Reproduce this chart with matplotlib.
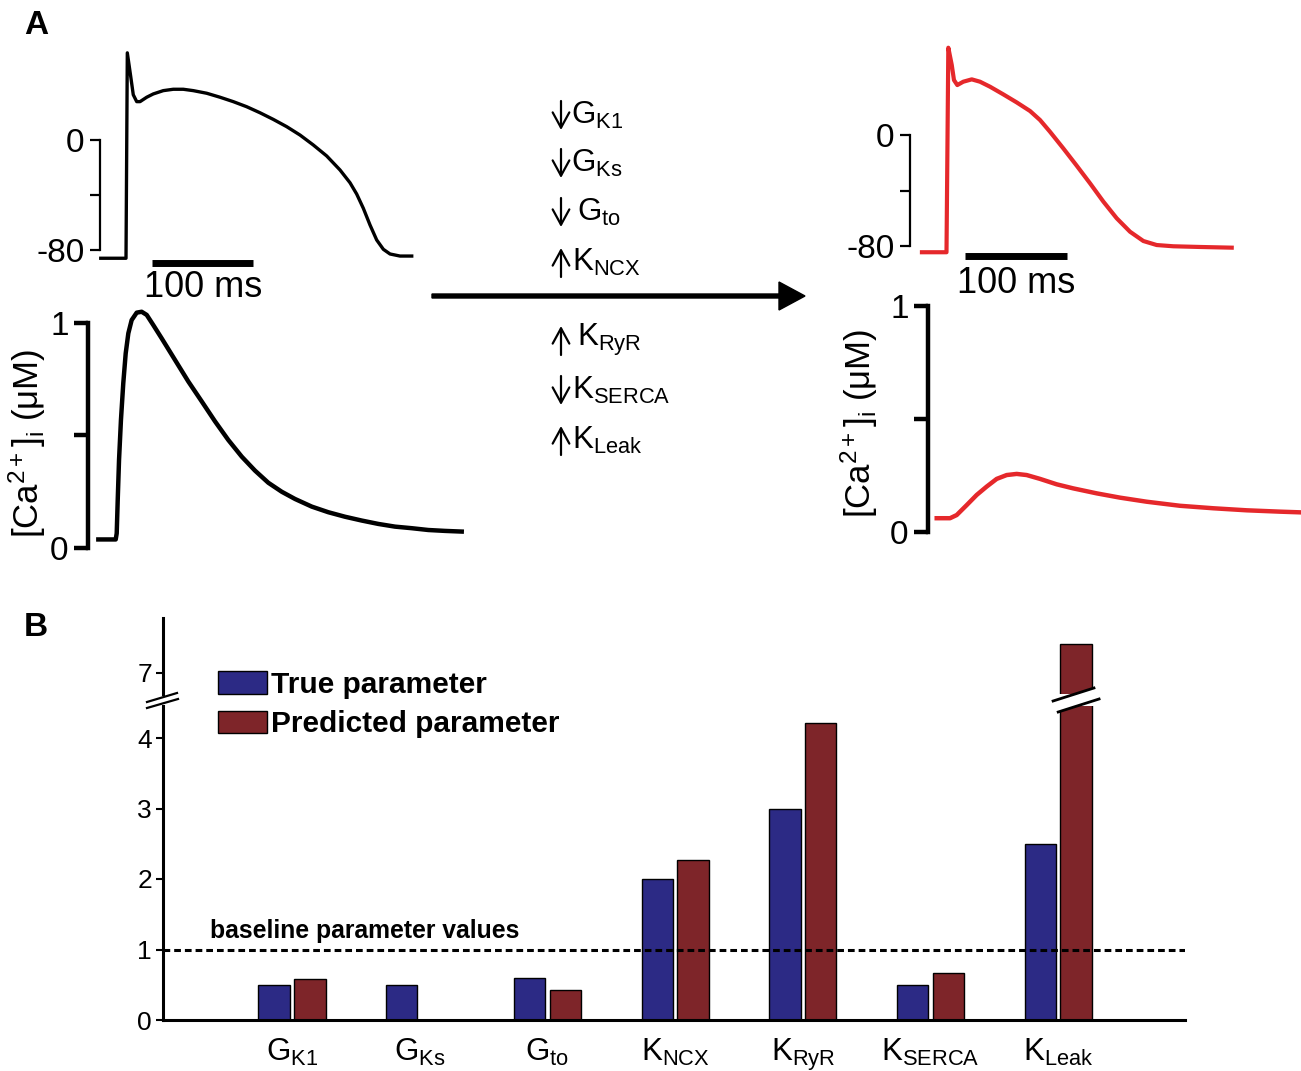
import numpy as np
import matplotlib
matplotlib.use('Agg')
import matplotlib.pyplot as plt
from matplotlib.patches import Patch, Polygon
from matplotlib.transforms import blended_transform_factory

plt.rcParams['font.family'] = ['Liberation Sans', 'DejaVu Sans']
plt.rcParams['mathtext.fontset'] = 'custom'
plt.rcParams['mathtext.rm'] = 'Liberation Sans'
plt.rcParams['mathtext.it'] = 'Liberation Sans:italic'
plt.rcParams['mathtext.bf'] = 'Liberation Sans:bold'

# ---- panel A data (time in ms, voltage in mV, calcium in uM) ----
ap_ctrl_t = [-25, 0, 1.3, 4.7, 7.2, 10.6, 13.9, 20.5, 27, 36.9, 46.8, 56.7, 66.6, 79.9,
             93.1, 106.2, 119.5, 132.7, 145.8, 159.1, 172.3, 185.4, 198.7, 211.9, 221.8,
             228.4, 235, 241.6, 248.2, 254.8, 261.4, 271.3, 282.9]
ap_ctrl_v = [-86, -86, 63.4, 46, 32.9, 27.9, 27.9, 31.1, 33.5, 35.9, 36.9, 36.9, 35.9, 34,
             31.1, 27.9, 24.2, 19.8, 15, 9.7, 3.6, -3.6, -11.6, -21.8, -31.1,
             -39.3, -49.7, -61.8, -72.7, -79.5, -82.9, -84.4, -84.4]

ca_ctrl_t = [-27.4, -10.2, -9.2, -8.2, -6.9, -5.0, -2.7, -0.3, 2.3, 5.6, 10.6, 15.5, 20.5,
             27.0, 35.3, 48.5, 61.7, 74.9, 88.1, 101.3, 114.6, 127.7, 140.9, 154.2, 167.3,
             183.9, 200.3, 216.8, 233.4, 249.8, 266.3, 282.9, 299.3, 315.8, 332.4]
ca_ctrl_c = [0.038, 0.038, 0.065, 0.213, 0.391, 0.569, 0.732, 0.865, 0.954, 1.013, 1.046,
             1.050, 1.036, 0.991, 0.932, 0.836, 0.740, 0.652, 0.563, 0.480, 0.406, 0.344,
             0.290, 0.250, 0.218, 0.184, 0.159, 0.139, 0.122, 0.107, 0.095, 0.088, 0.080,
             0.076, 0.073]

ap_pred_t = [-24.8, -0.5, 1.3, 4.7, 6.9, 10.2, 16.1, 24.5, 32.7, 42.6, 55.7, 69.0, 82.2,
             92.1, 101.9, 115.1, 128.4, 141.6, 154.8, 168.0, 181.2, 194.4, 207.6, 224.1,
             250.5, 281.9]
ap_pred_v = [-84.5, -84.5, 62.9, 50.5, 39.6, 36.0, 38.4, 40.1, 38.4, 34.8, 29.3, 23.5, 17.3,
             10.8, 2.4, -9.6, -22.1, -34.8, -48.0, -60.0, -69.7, -76.4, -79.3, -80.2,
             -80.7, -81.2]

ca_pred_t = [-10.2, 3.0, 9.6, 19.5, 29.4, 39.3, 49.2, 59.1, 69.0, 78.9, 92.1, 108.6, 125.0,
             148.2, 171.3, 197.7, 230.7, 263.7, 296.7, 329.7, 349.5]
ca_pred_c = [0.061, 0.061, 0.075, 0.119, 0.164, 0.201, 0.235, 0.252, 0.257, 0.252, 0.235,
             0.211, 0.193, 0.171, 0.152, 0.134, 0.116, 0.105, 0.096, 0.090, 0.087]

change_up = [False, False, False, True, True, False, True]
change_names = ['G$_{\\mathrm{K1}}$', 'G$_{\\mathrm{Ks}}$', 'G$_{\\mathrm{to}}$',
                'K$_{\\mathrm{NCX}}$', 'K$_{\\mathrm{RyR}}$', 'K$_{\\mathrm{SERCA}}$',
                'K$_{\\mathrm{Leak}}$']

# ---- panel B data ----
params = ['G$_{\\mathrm{K1}}$', 'G$_{\\mathrm{Ks}}$', 'G$_{\\mathrm{to}}$', 'K$_{\\mathrm{NCX}}$',
          'K$_{\\mathrm{RyR}}$', 'K$_{\\mathrm{SERCA}}$', 'K$_{\\mathrm{Leak}}$']
true_vals = [0.5, 0.5, 0.6, 2.0, 3.0, 0.5, 2.5]
pred_vals = [0.58, 0.0, 0.42, 2.27, 4.21, 0.67, 7.41]

BLUE = '#2C2A85'
DRED = '#7E2529'
RED = '#E5282B'

W, H = 1301, 1071
fig = plt.figure(figsize=(W / 100, H / 100), dpi=100)


def px_axes(left, top, right, bottom):
    return fig.add_axes([left / W, 1 - bottom / H, (right - left) / W, (bottom - top) / H])


def trace_axes(ax, bounds, ticks, labels, lw, ticklen):
    for s in ['top', 'right', 'bottom']:
        ax.spines[s].set_visible(False)
    ax.spines['left'].set_bounds(*bounds)
    ax.spines['left'].set_linewidth(lw)
    ax.set_xticks([])
    ax.set_yticks(ticks)
    ax.set_yticklabels(labels)
    ax.tick_params(axis='y', direction='out', length=ticklen, width=lw, labelsize=24, pad=4)
    ax.patch.set_visible(False)


CA_LABEL = '[Ca$^{2+}$]$_{\\mathrm{i}}$ ($\\mathrm{\u03bc}$M)'

# px per ms = 1.01 ; upstroke at px 126 (left) / 947 (right)
ax1 = px_axes(100, 40, 470, 270)
ax1.plot(ap_ctrl_t, ap_ctrl_v, color='k', lw=2.4, clip_on=False)
ax1.set_xlim((100 - 126) / 1.01, (470 - 126) / 1.01)
ax1.set_ylim((140 - 270) / 1.375, (140 - 40) / 1.375)
trace_axes(ax1, (-80, 0), [-80, -40, 0], ['-80', '', '0'], 1.6, 7)
ax1.plot([26, 126], [-89.5, -89.5], color='k', lw=5, solid_capstyle='butt', clip_on=False)
ax1.text(76, -107, '100 ms', ha='center', va='center', fontsize=26, clip_on=False)

ax2 = px_axes(88, 295, 470, 560)
ax2.plot(ca_ctrl_t, ca_ctrl_c, color='k', lw=3.2, clip_on=False)
ax2.set_xlim((88 - 126) / 1.01, (470 - 126) / 1.01)
ax2.set_ylim((548 - 560) / 225, (548 - 295) / 225)
trace_axes(ax2, (0, 1), [0, 0.5, 1], ['0', '', '1'], 3.2, 10)
ax2.set_ylabel(CA_LABEL, fontsize=25)
ax2.yaxis.set_label_coords(-0.105, 0.44)

ax3 = px_axes(910, 30, 1301, 275)
ax3.plot(ap_pred_t, ap_pred_v, color=RED, lw=3, clip_on=False)
ax3.set_xlim((910 - 947) / 1.01, (1301 - 947) / 1.01)
ax3.set_ylim((135 - 275) / 1.3875, (135 - 30) / 1.3875)
trace_axes(ax3, (-80, 0), [-80, -40, 0], ['-80', '', '0'], 1.6, 7)
ax3.plot([17.8, 118.8], [-87.2, -87.2], color='k', lw=5, solid_capstyle='butt', clip_on=False)
ax3.text(68.3, -106.7, '100 ms', ha='center', va='center', fontsize=26, clip_on=False)

ax4 = px_axes(928, 290, 1301, 545)
ax4.plot(ca_pred_t, ca_pred_c, color=RED, lw=3.2, clip_on=False)
ax4.set_xlim((928 - 947) / 1.01, (1301 - 947) / 1.01)
ax4.set_ylim((532 - 545) / 226, (532 - 290) / 226)
trace_axes(ax4, (0, 1), [0, 0.5, 1], ['0', '', '1'], 3.2, 10)
ax4.set_ylabel(CA_LABEL, fontsize=25)
ax4.yaxis.set_label_coords(-0.128, 0.475)

# ---- panel B: broken y axis ----
x = np.arange(len(params))
bw, off = 0.245, 0.14
ax_lo = px_axes(163, 706, 1185, 1020)
ax_hi = px_axes(163, 618, 1185, 694)
for ax in (ax_lo, ax_hi):
    ax.bar(x - off, true_vals, bw, color=BLUE, edgecolor='k', lw=1)
    ax.bar(x + off, pred_vals, bw, color=DRED, edgecolor='k', lw=1)
    ax.set_xlim(-(292 - 163) / 127.7, (1185 - 292) / 127.7)
    ax.spines['top'].set_visible(False)
    ax.spines['right'].set_visible(False)
    ax.spines['left'].set_linewidth(2.2)
    ax.tick_params(axis='y', direction='out', length=5, width=1.5, labelsize=19, pad=3)

ax_lo.set_ylim(0, (1020 - 706) / 70.5)
ax_lo.set_yticks([0, 1, 2, 3, 4])
ax_lo.spines['bottom'].set_linewidth(2.2)
ax_lo.set_xticks(x)
ax_lo.set_xticklabels(params, fontsize=22.5)
ax_lo.tick_params(axis='x', length=0, pad=12)
ax_lo.axhline(1, color='k', ls=(0, (2.2, 1.3)), lw=2.2)
ax_lo.text(-0.64, 1.26, 'baseline parameter values', fontsize=17.8, fontweight='bold',
           ha='left', va='center')

ax_hi.set_ylim(7 - 21 / 70.5, 7 + 55 / 70.5)
ax_hi.set_yticks([7])
ax_hi.spines['bottom'].set_visible(False)
ax_hi.set_xticks([])

fig.legend(handles=[Patch(facecolor=BLUE, edgecolor='k'), Patch(facecolor=DRED, edgecolor='k')],
           labels=['True parameter', 'Predicted parameter'], loc='upper left',
           bbox_to_anchor=(218 / W, 1 - 671 / H), frameon=False, borderpad=0, borderaxespad=0,
           handlelength=1.65, handleheight=0.8, handletextpad=0.12, labelspacing=0.38,
           prop={'weight': 'bold', 'size': 21.5})

# ---- overlay in pixel coordinates for labels, arrow, break marks ----
ov = fig.add_axes([0, 0, 1, 1])
ov.set_xlim(0, W)
ov.set_ylim(H, 0)
ov.axis('off')
ov.patch.set_visible(False)

ov.text(24, 25, 'A', fontsize=24, fontweight='bold', ha='left', va='center')
ov.text(24, 627, 'B', fontsize=24, fontweight='bold', ha='left', va='center')
ov.arrow(432, 296, 373, 0, width=4, head_width=28, head_length=26,
         length_includes_head=True, color='k')

rows = [115, 163, 212, 262, 340, 390, 440]
name_x = [571, 571, 577, 572, 577, 572, 572]
for up, nm, yy, nx in zip(change_up, change_names, rows, name_x):
    tail, head = (yy + 15, yy - 14) if up else (yy - 14, yy + 15)
    ov.annotate('', xy=(561, head), xytext=(561, tail),
                arrowprops=dict(arrowstyle='->,head_length=0.55,head_width=0.3',
                                lw=1.6, color='k', shrinkA=0, shrinkB=0, mutation_scale=20))
    ov.text(nx, yy, nm, fontsize=22.5, ha='left', va='center')

# y-axis break marks
bx = 163
ov.add_patch(Polygon([[bx - 16, 703], [bx + 14, 694], [bx + 15, 699], [bx - 16, 708]],
                     closed=True, facecolor='white', edgecolor='none', zorder=5))
ov.plot([bx - 16, bx + 14], [702, 693], color='k', lw=1.6, zorder=6)
ov.plot([bx - 16, bx + 15], [708, 699], color='k', lw=1.6, zorder=6)

# break marks on the tallest bar
tb = blended_transform_factory(ax_lo.transData, ov.transData)
kx = x[-1] + off
pts = [[kx - 0.18, 701], [kx + 0.14, 688], [kx + 0.18, 699], [kx - 0.14, 712]]
ov.add_patch(Polygon(pts, closed=True, facecolor='white', edgecolor='none', transform=tb, zorder=5))
ov.plot([kx - 0.18, kx + 0.14], [701, 688], color='k', lw=2, transform=tb, zorder=6)
ov.plot([kx - 0.14, kx + 0.18], [712, 699], color='k', lw=2, transform=tb, zorder=6)

fig.savefig('out.png', dpi=100)
